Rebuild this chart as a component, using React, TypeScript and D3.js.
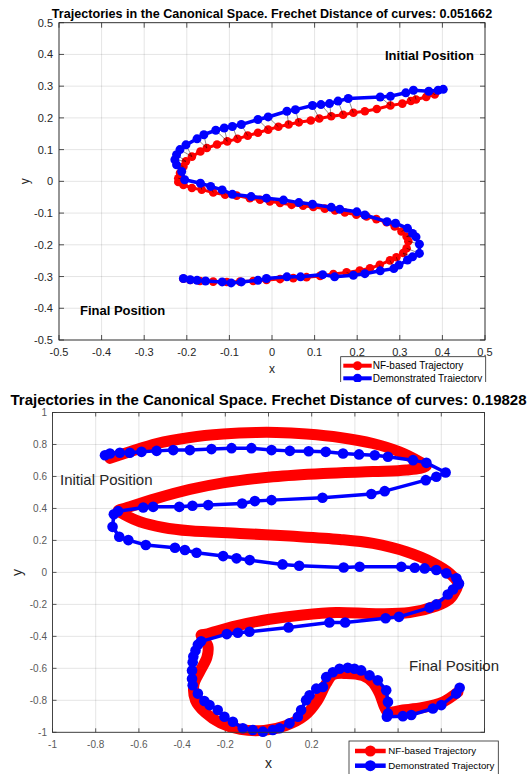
import React from "react";
import * as d3 from "d3";

// ---- data ----
// top figure (canonical space, frechet 0.051662)
const topDemo: [number, number][] = [
  [0.402, 0.29], [0.39, 0.287], [0.368, 0.284], [0.332, 0.287], [0.314, 0.279], [0.278, 0.268],
  [0.254, 0.266], [0.179, 0.261], [0.155, 0.253], [0.135, 0.245], [0.115, 0.242], [0.095, 0.239],
  [0.055, 0.226], [0.035, 0.221], [-0.009, 0.203], [-0.033, 0.195], [-0.072, 0.179], [-0.093, 0.173],
  [-0.112, 0.168], [-0.132, 0.161], [-0.16, 0.147], [-0.176, 0.134], [-0.202, 0.115], [-0.216, 0.1],
  [-0.224, 0.084], [-0.228, 0.068], [-0.224, 0.052], [-0.212, 0.031], [-0.205, 0.005], [-0.168, -0.006],
  [-0.144, -0.016], [-0.117, -0.027], [-0.093, -0.041], [-0.049, -0.048], [-0.013, -0.053], [0.027, -0.059],
  [0.063, -0.067], [0.095, -0.072], [0.139, -0.082], [0.159, -0.088], [0.199, -0.096], [0.218, -0.106],
  [0.27, -0.127], [0.29, -0.132], [0.318, -0.148], [0.33, -0.164], [0.338, -0.175], [0.346, -0.198],
  [0.346, -0.227], [0.33, -0.238], [0.318, -0.248], [0.298, -0.264], [0.286, -0.275], [0.254, -0.282],
  [0.218, -0.291], [0.191, -0.296], [0.147, -0.301], [0.119, -0.294], [0.067, -0.301], [0.035, -0.301],
  [-0.013, -0.306], [-0.033, -0.312], [-0.072, -0.317], [-0.096, -0.32], [-0.117, -0.317], [-0.156, -0.314],
  [-0.176, -0.312], [-0.192, -0.31], [-0.208, -0.306],
];
const topNF: [number, number][] = [
  [0.382, 0.274], [0.362, 0.266], [0.338, 0.258], [0.326, 0.253], [0.306, 0.245], [0.278, 0.239],
  [0.246, 0.228], [0.218, 0.221], [0.191, 0.216], [0.167, 0.21], [0.139, 0.205], [0.111, 0.198],
  [0.091, 0.192], [0.063, 0.186], [0.039, 0.179], [0.015, 0.172], [-0.009, 0.163], [-0.033, 0.153],
  [-0.057, 0.144], [-0.081, 0.134], [-0.105, 0.126], [-0.129, 0.116], [-0.153, 0.105], [-0.168, 0.094],
  [-0.188, 0.078], [-0.202, 0.063], [-0.208, 0.047], [-0.216, 0.026], [-0.22, 0.01], [-0.22, -0.002],
  [-0.208, -0.011], [-0.188, -0.021], [-0.165, -0.026], [-0.138, -0.035], [-0.11, -0.042], [-0.083, -0.045],
  [-0.052, -0.053], [-0.028, -0.058], [-0.005, -0.063], [0.019, -0.068], [0.046, -0.074], [0.073, -0.077],
  [0.097, -0.081], [0.124, -0.086], [0.148, -0.092], [0.171, -0.098], [0.198, -0.105], [0.222, -0.111],
  [0.245, -0.119], [0.269, -0.129], [0.288, -0.142], [0.304, -0.158], [0.316, -0.174], [0.32, -0.189],
  [0.316, -0.211], [0.308, -0.226], [0.292, -0.239], [0.277, -0.249], [0.253, -0.263], [0.23, -0.274],
  [0.206, -0.281], [0.175, -0.287], [0.144, -0.292], [0.113, -0.298], [0.081, -0.302], [0.05, -0.305],
  [0.019, -0.308], [-0.013, -0.311], [-0.044, -0.314], [-0.075, -0.316], [-0.106, -0.317], [-0.138, -0.316],
  [-0.169, -0.314], [-0.192, -0.311], [-0.208, -0.307],
];
const topTicks = [-0.5, -0.4, -0.3, -0.2, -0.1, 0, 0.1, 0.2, 0.3, 0.4, 0.5];
const topTickLabels = ["-0.5", "-0.4", "-0.3", "-0.2", "-0.1", "0", "0.1", "0.2", "0.3", "0.4", "0.5"];

// bottom figure (frechet 0.19828)
const botDemo: [number, number][] = [
  [-0.757, 0.733], [-0.734, 0.744], [-0.688, 0.748], [-0.642, 0.748], [-0.588, 0.754], [-0.518, 0.76],
  [-0.441, 0.765], [-0.364, 0.765], [-0.264, 0.771], [-0.171, 0.777], [-0.079, 0.777], [0.014, 0.765],
  [0.099, 0.76], [0.186, 0.758], [0.265, 0.754], [0.345, 0.744], [0.419, 0.738], [0.492, 0.733],
  [0.553, 0.723], [0.669, 0.702], [0.731, 0.685], [0.82, 0.625], [0.777, 0.598], [0.728, 0.577],
  [0.538, 0.508], [0.476, 0.49], [0.25, 0.467], [0.014, 0.452], [-0.063, 0.446], [-0.122, 0.431],
  [-0.279, 0.421], [-0.352, 0.417], [-0.413, 0.41], [-0.534, 0.41], [-0.58, 0.406], [-0.696, 0.383],
  [-0.716, 0.363], [-0.722, 0.285], [-0.691, 0.223], [-0.649, 0.202], [-0.568, 0.171], [-0.433, 0.154],
  [-0.387, 0.14], [-0.333, 0.123], [-0.21, 0.102], [-0.148, 0.088], [-0.087, 0.077], [0.065, 0.05],
  [0.142, 0.042], [0.348, 0.031], [0.422, 0.035], [0.615, 0.035], [0.677, 0.029], [0.723, 0.025],
  [0.777, 0.015], [0.823, -0.006], [0.87, -0.037], [0.882, -0.069], [0.877, -0.076], [0.854, -0.107],
  [0.83, -0.138], [0.777, -0.2], [0.746, -0.22], [0.604, -0.278], [0.542, -0.287], [0.355, -0.313],
  [0.282, -0.313], [0.093, -0.344], [-0.088, -0.371], [-0.142, -0.377], [-0.193, -0.386], [-0.312, -0.431],
  [-0.327, -0.452], [-0.338, -0.489], [-0.348, -0.526], [-0.351, -0.562], [-0.354, -0.613], [-0.354, -0.665],
  [-0.351, -0.706], [-0.327, -0.758], [-0.297, -0.804], [-0.273, -0.83], [-0.235, -0.861], [-0.204, -0.903],
  [-0.165, -0.934], [-0.119, -0.975], [-0.073, -0.986], [-0.026, -0.996], [0.02, -0.986], [0.051, -0.975],
  [0.097, -0.944], [0.136, -0.903], [0.151, -0.861], [0.174, -0.799], [0.19, -0.768], [0.221, -0.727],
  [0.252, -0.717], [0.267, -0.655], [0.298, -0.624], [0.329, -0.603], [0.367, -0.597], [0.398, -0.603],
  [0.429, -0.613], [0.468, -0.644], [0.506, -0.675], [0.545, -0.737], [0.553, -0.81], [0.553, -0.882],
  [0.548, -0.903], [0.622, -0.899], [0.661, -0.892], [0.761, -0.851], [0.8, -0.83], [0.869, -0.758],
  [0.885, -0.721],
];
const botNF: [number, number][] = [
  [-0.734, 0.713], [-0.642, 0.754], [-0.518, 0.806], [-0.364, 0.844], [-0.21, 0.865], [-0.056, 0.875],
  [0.037, 0.875], [0.176, 0.865], [0.33, 0.844], [0.484, 0.806], [0.607, 0.754], [0.7, 0.692],
  [0.731, 0.665], [0.638, 0.64], [0.484, 0.631], [0.253, 0.619], [0.021, 0.598], [-0.21, 0.56],
  [-0.364, 0.519], [-0.518, 0.463], [-0.642, 0.41], [-0.696, 0.385], [-0.672, 0.365], [-0.595, 0.317],
  [-0.487, 0.281], [-0.364, 0.26], [-0.133, 0.244], [0.099, 0.227], [0.33, 0.206], [0.484, 0.181],
  [0.638, 0.129], [0.762, 0.06], [0.839, -0.006], [0.877, -0.069], [0.869, -0.107], [0.838, -0.169],
  [0.777, -0.21], [0.653, -0.251], [0.499, -0.258], [0.313, -0.251], [0.159, -0.266], [0.005, -0.293],
  [-0.15, -0.334], [-0.289, -0.386], [-0.312, -0.392], [-0.281, -0.458], [-0.285, -0.531], [-0.315, -0.613],
  [-0.345, -0.7], [-0.338, -0.8], [-0.292, -0.878], [-0.222, -0.942], [-0.13, -0.982], [-0.02, -0.988],
  [0.08, -0.958], [0.168, -0.895], [0.225, -0.805], [0.267, -0.696], [0.298, -0.64], [0.36, -0.632],
  [0.437, -0.646], [0.483, -0.688], [0.514, -0.758], [0.537, -0.841], [0.553, -0.872], [0.622, -0.861],
  [0.715, -0.845], [0.808, -0.81], [0.877, -0.748],
];
const botTicks = [-1, -0.8, -0.6, -0.4, -0.2, 0, 0.2, 0.4, 0.6, 0.8, 1];
const botTickLabels = ["-1", "-0.8", "-0.6", "-0.4", "-0.2", "0", "0.2", "0.4", "0.6", "0.8", "1"];

const legendNames = ["NF-based Trajectory", "Demonstrated Trajectory"];

const FONT = "'Liberation Sans', Arial, sans-serif";
const RED = "#ff0000";
const BLUE = "#0000ff";

// greedy monotone matching, roughly like the coupling lines in the figure
function coupling(a: [number, number][], b: [number, number][]) {
  const pairs: [[number, number], [number, number]][] = [];
  let j = 0;
  a.forEach((p) => {
    let best = j;
    let bd = Infinity;
    for (let k = j; k < Math.min(b.length, j + 10); k++) {
      const dd = (p[0] - b[k][0]) ** 2 + (p[1] - b[k][1]) ** 2;
      if (dd < bd) { bd = dd; best = k; }
    }
    j = best;
    pairs.push([p, b[best]]);
  });
  return pairs;
}

function Axes({ xs, ys, ticksX, ticksY, labX, labY, tickLen, tickFont, labColor, boxColor, xLabY, yLabX, hideFrom }: any) {
  const [x0, x1] = xs.range();
  const [y0, y1] = ys.range();
  return (
    <g>
      <rect x={x0} y={y1} width={x1 - x0} height={y0 - y1} fill="#fff" />
      {ticksX.map((t: number, i: number) => (
        <line key={"gx" + i} x1={xs(t)} x2={xs(t)} y1={y0} y2={y1} stroke="#262626" strokeOpacity={0.15} strokeWidth={0.8} />
      ))}
      {ticksY.map((t: number, i: number) => (
        <line key={"gy" + i} x1={x0} x2={x1} y1={ys(t)} y2={ys(t)} stroke="#262626" strokeOpacity={0.15} strokeWidth={0.8} />
      ))}
      {ticksX.map((t: number, i: number) => (
        <g key={"tx" + i} stroke={boxColor} strokeWidth={0.8}>
          <line x1={xs(t)} x2={xs(t)} y1={y0} y2={y0 - tickLen} />
          <line x1={xs(t)} x2={xs(t)} y1={y1} y2={y1 + tickLen} />
        </g>
      ))}
      {ticksY.map((t: number, i: number) => (
        <g key={"ty" + i} stroke={boxColor} strokeWidth={0.8}>
          <line x1={x0} x2={x0 + tickLen} y1={ys(t)} y2={ys(t)} />
          <line x1={x1} x2={x1 - tickLen} y1={ys(t)} y2={ys(t)} />
        </g>
      ))}
      {ticksX.map((t: number, i: number) =>
        hideFrom !== undefined && xs(t) > hideFrom ? null : (
          <text key={"lx" + i} x={xs(t)} y={xLabY} fontSize={tickFont} fill={labColor} textAnchor="middle">{labX[i]}</text>
        )
      )}
      {ticksY.map((t: number, i: number) => (
        <text key={"ly" + i} x={yLabX} y={ys(t) + tickFont * 0.36} fontSize={tickFont} fill={labColor} textAnchor="end">{labY[i]}</text>
      ))}
    </g>
  );
}

function Box({ xs, ys, color }: any) {
  const [x0, x1] = xs.range();
  const [y0, y1] = ys.range();
  return <rect x={x0} y={y1} width={x1 - x0} height={y0 - y1} fill="none" stroke={color} strokeWidth={0.9} />;
}

function Legend({ x, y, w, h, rowY, lineX0, lineX1, textX, fs, lw, r }: any) {
  const cols = [RED, BLUE];
  return (
    <g>
      <rect x={x} y={y} width={w} height={h} fill="#fff" stroke="#262626" strokeWidth={0.8} />
      {legendNames.map((n, i) => (
        <g key={n}>
          <line x1={lineX0} x2={lineX1} y1={rowY[i]} y2={rowY[i]} stroke={cols[i]} strokeWidth={lw} />
          <circle cx={(lineX0 + lineX1) / 2} cy={rowY[i]} r={r} fill={cols[i]} />
          <text x={textX} y={rowY[i] + fs * 0.36} fontSize={fs} fill="#000">{n}</text>
        </g>
      ))}
    </g>
  );
}

export default function App() {
  // top figure scales
  const tx = d3.scaleLinear().domain([-0.5, 0.5]).range([59, 485]);
  const ty = d3.scaleLinear().domain([-0.5, 0.5]).range([340, 22.7]);
  // bottom figure scales
  const bx = d3.scaleLinear().domain([-1, 1]).range([52.5, 484.5]);
  const by = d3.scaleLinear().domain([-1, 1]).range([732.3, 412.5]);

  const topLine = d3.line<[number, number]>().x((d) => tx(d[0])).y((d) => ty(d[1]));
  const botLine = d3.line<[number, number]>().x((d) => bx(d[0])).y((d) => by(d[1]));
  const botSmooth = d3
    .line<[number, number]>()
    .x((d) => bx(d[0]))
    .y((d) => by(d[1]))
    .curve(d3.curveCatmullRom.alpha(0.5));

  const links = coupling(topDemo, topNF);

  return (
    <div style={{ position: "absolute", left: 0, top: 0 }}>
      <svg width={532} height={774} style={{ display: "block", fontFamily: FONT }}>
        <rect width={532} height={774} fill="#fff" />
        <defs>
          <clipPath id="topclip">
            <rect x={0} y={0} width={532} height={382} />
          </clipPath>
        </defs>

        {/* ---------- top figure ---------- */}
        <g clipPath="url(#topclip)">
          <Axes xs={tx} ys={ty} ticksX={topTicks} ticksY={topTicks} labX={topTickLabels} labY={topTickLabels}
            tickLen={5} tickFont={11} labColor="#262626" boxColor="#262626" xLabY={356} yLabX={53} />
          <path d={topLine(topNF) || ""} fill="none" stroke={RED} strokeWidth={3} />
          {topNF.map((d, i) => (
            <circle key={"tr" + i} cx={tx(d[0])} cy={ty(d[1])} r={4.3} fill={RED} />
          ))}
          {links.map(([a, b], i) => (
            <line key={"lk" + i} x1={tx(a[0])} y1={ty(a[1])} x2={tx(b[0])} y2={ty(b[1])} stroke="#000" strokeOpacity={0.75} strokeWidth={0.6} />
          ))}
          <path d={topLine(topDemo) || ""} fill="none" stroke={BLUE} strokeWidth={3.5} />
          {topDemo.map((d, i) => (
            <circle key={"tb" + i} cx={tx(d[0])} cy={ty(d[1])} r={4.5} fill={BLUE} />
          ))}
          <Box xs={tx} ys={ty} color="#262626" />
          <text x={272} y={18} fontSize={12.6} fontWeight="bold" textAnchor="middle" fill="#000">
            Trajectories in the Canonical Space. Frechet Distance of curves: 0.051662
          </text>
          <text x={385} y={59.5} fontSize={13} fontWeight="bold" fill="#000">Initial Position</text>
          <text x={80} y={314.5} fontSize={13} fontWeight="bold" fill="#000">Final Position</text>
          <text x={272} y={373} fontSize={12} textAnchor="middle" fill="#262626">x</text>
          <text transform={`translate(29,${ty(0)}) rotate(-90)`} fontSize={12} textAnchor="middle" fill="#262626">y</text>
          <Legend x={340.7} y={356.7} w={145} h={40} rowY={[365.7, 378.3]} lineX0={343.3} lineX1={371.7}
            textX={372.7} fs={10} lw={4} r={4.5} />
        </g>

        {/* ---------- bottom figure ---------- */}
        <Axes xs={bx} ys={by} ticksX={botTicks} ticksY={botTicks} labX={botTickLabels} labY={botTickLabels}
          tickLen={4} tickFont={10} labColor="#5a5a5a" boxColor="#333" xLabY={748} yLabX={47} hideFrom={345} />
        <path d={botSmooth(botNF) || ""} fill="none" stroke={RED} strokeWidth={11} strokeLinecap="round" strokeLinejoin="round" />
        <path d={botLine(botDemo) || ""} fill="none" stroke={BLUE} strokeWidth={3.5} strokeLinejoin="round" />
        {botDemo.map((d, i) => (
          <circle key={"bb" + i} cx={bx(d[0])} cy={by(d[1])} r={5.3} fill={BLUE} />
        ))}
        <Box xs={bx} ys={by} color="#333" />
        <text x={268.5} y={405} fontSize={15} fontWeight="bold" textAnchor="middle" fill="#000">
          Trajectories in the Canonical Space. Frechet Distance of curves: 0.19828
        </text>
        <text x={60} y={485} fontSize={15} fill="#262626">Initial Position</text>
        <text x={409} y={671} fontSize={15} fill="#262626">Final Position</text>
        <text x={268.5} y={768} fontSize={14} textAnchor="middle" fill="#262626">x</text>
        <text transform={`translate(22,${by(0)}) rotate(-90)`} fontSize={14} textAnchor="middle" fill="#262626">y</text>
        <Legend x={349} y={741} w={149.3} h={45} rowY={[751, 765.7]} lineX0={355} lineX1={385.7}
          textX={388.3} fs={9.7} lw={4.5} r={5.5} />
      </svg>
    </div>
  );
}
